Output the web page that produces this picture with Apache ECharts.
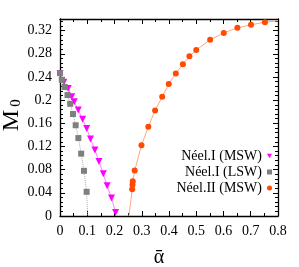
<!DOCTYPE html>
<html><head><meta charset="utf-8">
<script src="https://cdn.jsdelivr.net/npm/echarts@6/dist/echarts.min.js"></script>
<style>html,body{margin:0;padding:0;background:#fff}#c{width:299px;height:267px}</style>
</head><body><div id="c"></div>
<script>
// ---- data ----
const xTickLabels = ['0','0.1','0.2','0.3','0.4','0.5','0.6','0.7','0.8'];
const yTickLabels = ['0','0.04','0.08','0.12','0.16','0.2','0.24','0.28','0.32'];

const neel1MswAlpha = [0, 0.014, 0.030, 0.043, 0.052, 0.067, 0.083, 0.098, 0.112, 0.128, 0.143, 0.159, 0.173, 0.189, 0.204];
const neel1MswM     = [0.246, 0.231, 0.220, 0.206, 0.197, 0.183, 0.167, 0.151, 0.133, 0.114, 0.094, 0.073, 0.052, 0.031, 0.006];

const neel1LswAlpha = [0, 0.0066, 0.017, 0.0275, 0.0374, 0.0476, 0.0575, 0.0674, 0.0777, 0.088, 0.0978, 0.102];
const neel1LswM     = [0.2465, 0.235, 0.2226, 0.2087, 0.1936, 0.176, 0.1566, 0.1345, 0.1076, 0.078, 0.0417, 0];

const neel2MswAlpha = [0.253, 0.265, 0.266, 0.267, 0.274, 0.299, 0.324, 0.349, 0.375, 0.399, 0.425, 0.451, 0.475, 0.5, 0.551, 0.601, 0.651, 0.701, 0.752, 0.8];
const neel2MswM     = [0, 0.046, 0.054, 0.060, 0.0785, 0.122, 0.154, 0.182, 0.206, 0.228, 0.246, 0.262, 0.2755, 0.2865, 0.304, 0.316, 0.3247, 0.330, 0.3345, 0.337];

const seriesNames = ['Néel.I (MSW)', 'Néel.I (LSW)', 'Néel.II (MSW)'];

// ---- chart ----
const X_MIN = 0, X_MAX = 0.8, X_INT = 0.1;
const Y_MIN = 0, Y_MAX = 0.34, Y_INT = 0.04;
const FONT = '"Liberation Serif", serif';

const zip = (a, b) => a.map((v, i) => [v, b[i]]);
const symSize = s => (v) => (v[1] <= Y_MIN || v[0] >= X_MAX) ? 0 : s;

const chart = echarts.init(document.getElementById('c'), null, {renderer: 'canvas'});

function axisCommon(isX, showLabels, pos) {
  return {
    type: 'value',
    position: pos,
    min: isX ? X_MIN : Y_MIN,
    max: isX ? X_MAX : Y_MAX,
    interval: isX ? X_INT : Y_INT,
    axisLine: {show: true, onZero: false, lineStyle: {color: '#000', width: 1.3}},
    axisTick: {show: true, inside: true, length: 5, lineStyle: {color: '#000', width: 1}},
    minorTick: {show: true, splitNumber: isX ? 2 : 5, length: 3, lineStyle: {color: '#000', width: 1}},
    splitLine: {show: false},
    minorSplitLine: {show: false},
    axisLabel: {
      show: showLabels,
      showMaxLabel: isX,
      fontFamily: FONT, fontSize: 14, color: '#000', margin: 8,
      formatter: (v) => {
        const arr = isX ? xTickLabels : yTickLabels;
        const i = Math.round((v - (isX ? X_MIN : Y_MIN)) / (isX ? X_INT : Y_INT));
        return arr[i] !== undefined ? arr[i] : '';
      }
    }
  };
}

const legendBase = {
  orient: 'vertical', right: 22, align: 'right',
  itemWidth: 5, itemHeight: 5, itemGap: 2,
  textStyle: {fontFamily: FONT, fontSize: 14, color: '#000'},
  selectedMode: false
};

chart.setOption({
  animation: false,
  backgroundColor: '#fff',
  grid: {left: 60, right: 21, top: 19, bottom: 51, containLabel: false},
  xAxis: [axisCommon(true, true, 'bottom'), axisCommon(true, false, 'top')],
  yAxis: [axisCommon(false, true, 'left'), axisCommon(false, false, 'right')],
  legend: [
    Object.assign({}, legendBase, {top: 144, data: [{name: seriesNames[0], icon: 'path://M0,0L10,0L5,9Z'}]}),
    Object.assign({}, legendBase, {top: 160, data: [{name: seriesNames[1], icon: 'rect'}]}),
    Object.assign({}, legendBase, {top: 176, data: [{name: seriesNames[2], icon: 'circle'}]})
  ],
  series: [
    {
      name: seriesNames[0], type: 'line', xAxisIndex: 0, yAxisIndex: 0,
      data: zip(neel1MswAlpha, neel1MswM),
      symbol: 'triangle', symbolRotate: 180, symbolSize: symSize(7),
      itemStyle: {color: '#ff00ff'},
      lineStyle: {color: '#ff80ff', width: 1},
      z: 2
    },
    {
      name: seriesNames[1], type: 'line', xAxisIndex: 0, yAxisIndex: 0,
      data: zip(neel1LswAlpha, neel1LswM),
      symbol: 'rect', symbolSize: symSize(6),
      itemStyle: {color: '#7f7f7f'},
      lineStyle: {color: '#a8a8a8', width: 1, type: 'dotted'},
      z: 3
    },
    {
      name: seriesNames[2], type: 'line', xAxisIndex: 0, yAxisIndex: 0,
      data: zip(neel2MswAlpha, neel2MswM),
      symbol: 'circle', symbolSize: symSize(6),
      itemStyle: {color: '#ff4a00'},
      lineStyle: {color: '#ffa880', width: 1},
      z: 4
    }
  ],
  graphic: [
    {type: 'text', x: 12, y: 120.5, rotation: Math.PI / 2,
     style: {text: 'M', fontFamily: FONT, fontSize: 24, fill: '#000', align: 'center', verticalAlign: 'middle'}},
    {type: 'text', x: 16, y: 103, rotation: Math.PI / 2,
     style: {text: '0', fontFamily: FONT, fontSize: 15, fill: '#000', align: 'center', verticalAlign: 'middle'}},
    {type: 'text', x: 159, y: 258,
     style: {text: 'ᾱ', fontFamily: FONT, fontSize: 20, fill: '#000', align: 'center', verticalAlign: 'middle'}}
  ]
});
</script>
</body></html>
